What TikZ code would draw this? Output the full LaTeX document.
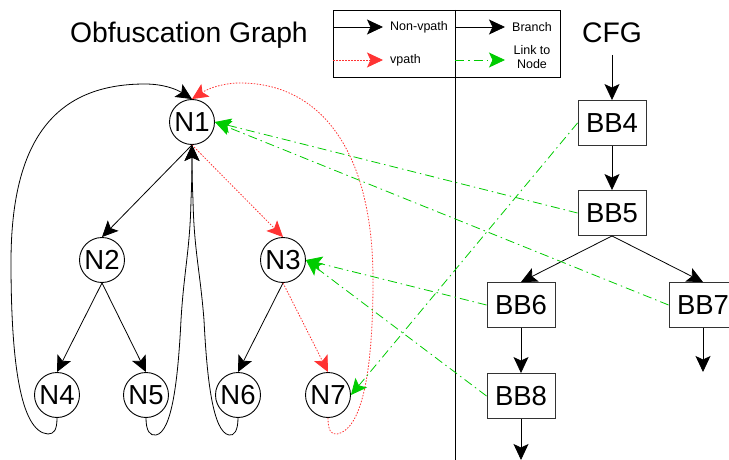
\documentclass[tikz,border=0pt]{standalone}
\usepackage{fontspec}
\setmainfont{Liberation Sans}
\usetikzlibrary{arrows.meta}
\definecolor{vred}{HTML}{FF3333}
\definecolor{lgreen}{HTML}{00CC00}
\definecolor{boxgray}{HTML}{333333}
\newcommand\Bfont{\fontsize{27.5}{33}\selectfont}
\newcommand\Tfont{\fontsize{28.3}{34}\selectfont}
\newcommand\Sfont{\fontsize{12.5}{14.5}\selectfont}
\begin{document}
\begin{tikzpicture}[x=1pt,y=-1pt,
  gnode/.style={circle,draw,line width=0.9pt,minimum size=45pt,inner sep=0pt,fill=white,font=\Bfont},
  bbox/.style={rectangle,draw=boxgray,line width=0.9pt,minimum width=68pt,minimum height=45pt,inner sep=0pt,fill=white,font=\Bfont},
  plain/.style={draw=black,line width=0.8pt,-{Stealth[length=16pt,width=15pt,inset=3.5pt]}},
  vp/.style={draw=vred,line width=0.8pt,dash pattern=on 1.5pt off 1.5pt,-{Stealth[length=16pt,width=15pt,inset=3.5pt,fill=vred,color=vred]}},
  lk/.style={draw=lgreen,line width=0.8pt,dash pattern=on 9pt off 4pt on 1.5pt off 4pt,-{Stealth[length=16pt,width=15pt,inset=3.5pt,fill=lgreen,color=lgreen]}},
  lbl/.style={font=\Sfont,inner sep=0pt}]
\useasboundingbox (0,0) rectangle (729,460);
\clip (0,0) rectangle (729,460);

% titles
\node[font=\Tfont,anchor=base,inner sep=0pt] (title) at (189,43) {Obfuscation Graph};
\node[font=\Tfont,anchor=base,inner sep=0pt] (CFG) at (612,43) {CFG};

% legend
\node[draw,line width=0.9pt,minimum width=227pt,minimum height=67pt,inner sep=0pt,anchor=north west] (legend) at (333,10) {};
\coordinate (divtop) at (455,10);
\coordinate (divbot) at (455,461);
\draw[line width=0.9pt] (divtop) -- (divbot);
\coordinate (l1a) at (333,27); \coordinate (l1b) at (383,27);
\coordinate (l2a) at (333,60); \coordinate (l2b) at (383,60);
\coordinate (l3a) at (455,27); \coordinate (l3b) at (505,27);
\coordinate (l4a) at (455,60); \coordinate (l4b) at (505,60);
\draw[plain] (l1a) -- (l1b);
\draw[vp] (l2a) -- (l2b);
\draw[plain] (l3a) -- (l3b);
\draw[lk] (l4a) -- (l4b);
\node[lbl,anchor=west] (tnv) at (390,27) {Non-vpath};
\node[lbl,anchor=west] (tvp) at (390,60) {vpath};
\node[lbl] (tbr) at (532,27) {Branch};
\node[lbl,align=center] (tln) at (532,57) {Link to\\Node};

% obfuscation graph nodes
\node[gnode] (N1) at (192,122) {N1};
\node[gnode] (N2) at (102,260) {N2};
\node[gnode] (N3) at (283,260) {N3};
\node[gnode] (N4) at (57,395) {N4};
\node[gnode] (N5) at (146,395) {N5};
\node[gnode] (N6) at (238,395) {N6};
\node[gnode] (N7) at (328,395) {N7};

% CFG nodes
\node[bbox] (BB4) at (612,123) {BB4};
\node[bbox] (BB5) at (612,213) {BB5};
\node[bbox] (BB6) at (521,305) {BB6};
\node[bbox] (BB7) at (703,305) {BB7};
\node[bbox] (BB8) at (521,396) {BB8};
\coordinate (cfgtail) at (612,55);
\coordinate (bb7out) at (703,372);
\coordinate (bb8out) at (521,460);

% tree edges
\draw[plain] (N1.south) -- (N2.north);
\draw[vp] (N1.south) -- (N3.north);
\draw[plain] (N2.south) -- (N4.north);
\draw[plain] (N2.south) -- (N5.north);
\draw[plain] (N3.south) -- (N6.north);
\draw[vp] (N3.south) -- (N7.north);

% loops back to N1
\draw[plain] (N4.south) .. controls (57,430) and (54,434) .. (48,434)
  .. controls (20,432) and (11,360) .. (11,262)
  .. controls (11,140) and (55,84) .. (145,84)
  .. controls (163,84) and (176,89) .. (N1.north);
\draw[plain] (N5.south) .. controls (146,431) and (150,436) .. (156,435)
  .. controls (172,432) and (178,380) .. (181,320)
  .. controls (184,270) and (190,250) .. (191,200)
  .. controls (192,180) and (192,160) .. (N1.south);
\draw[plain] (N6.south) .. controls (238,431) and (234,436) .. (229,435)
  .. controls (213,432) and (207,380) .. (204,320)
  .. controls (200,270) and (194,250) .. (193,200)
  .. controls (192,180) and (192,160) .. (N1.south);
\draw[vp] (N7.south) .. controls (328,430) and (331,435) .. (337,434)
  .. controls (360,430) and (373,380) .. (373,280)
  .. controls (373,150) and (320,83) .. (240,83)
  .. controls (224,83) and (209,88) .. (N1.north);

% CFG edges
\draw[plain] (cfgtail) -- (BB4.north);
\draw[plain] (BB4.south) -- (BB5.north);
\draw[plain] (BB5.south) -- (BB6.north);
\draw[plain] (BB5.south) -- (BB7.north);
\draw[plain] (BB6.south) -- (BB8.north);
\draw[plain] (BB7.south) -- (bb7out);
\draw[plain] (BB8.south) -- (bb8out);

% links to nodes
\draw[lk] (BB4.west) -- (N7.east);
\draw[lk] (BB5.west) -- (N1.east);
\draw[lk] (BB7.west) -- (N1.east);
\draw[lk] (BB6.west) -- (N3.east);
\draw[lk] (BB8.west) -- (N3.east);
\end{tikzpicture}
\end{document}
